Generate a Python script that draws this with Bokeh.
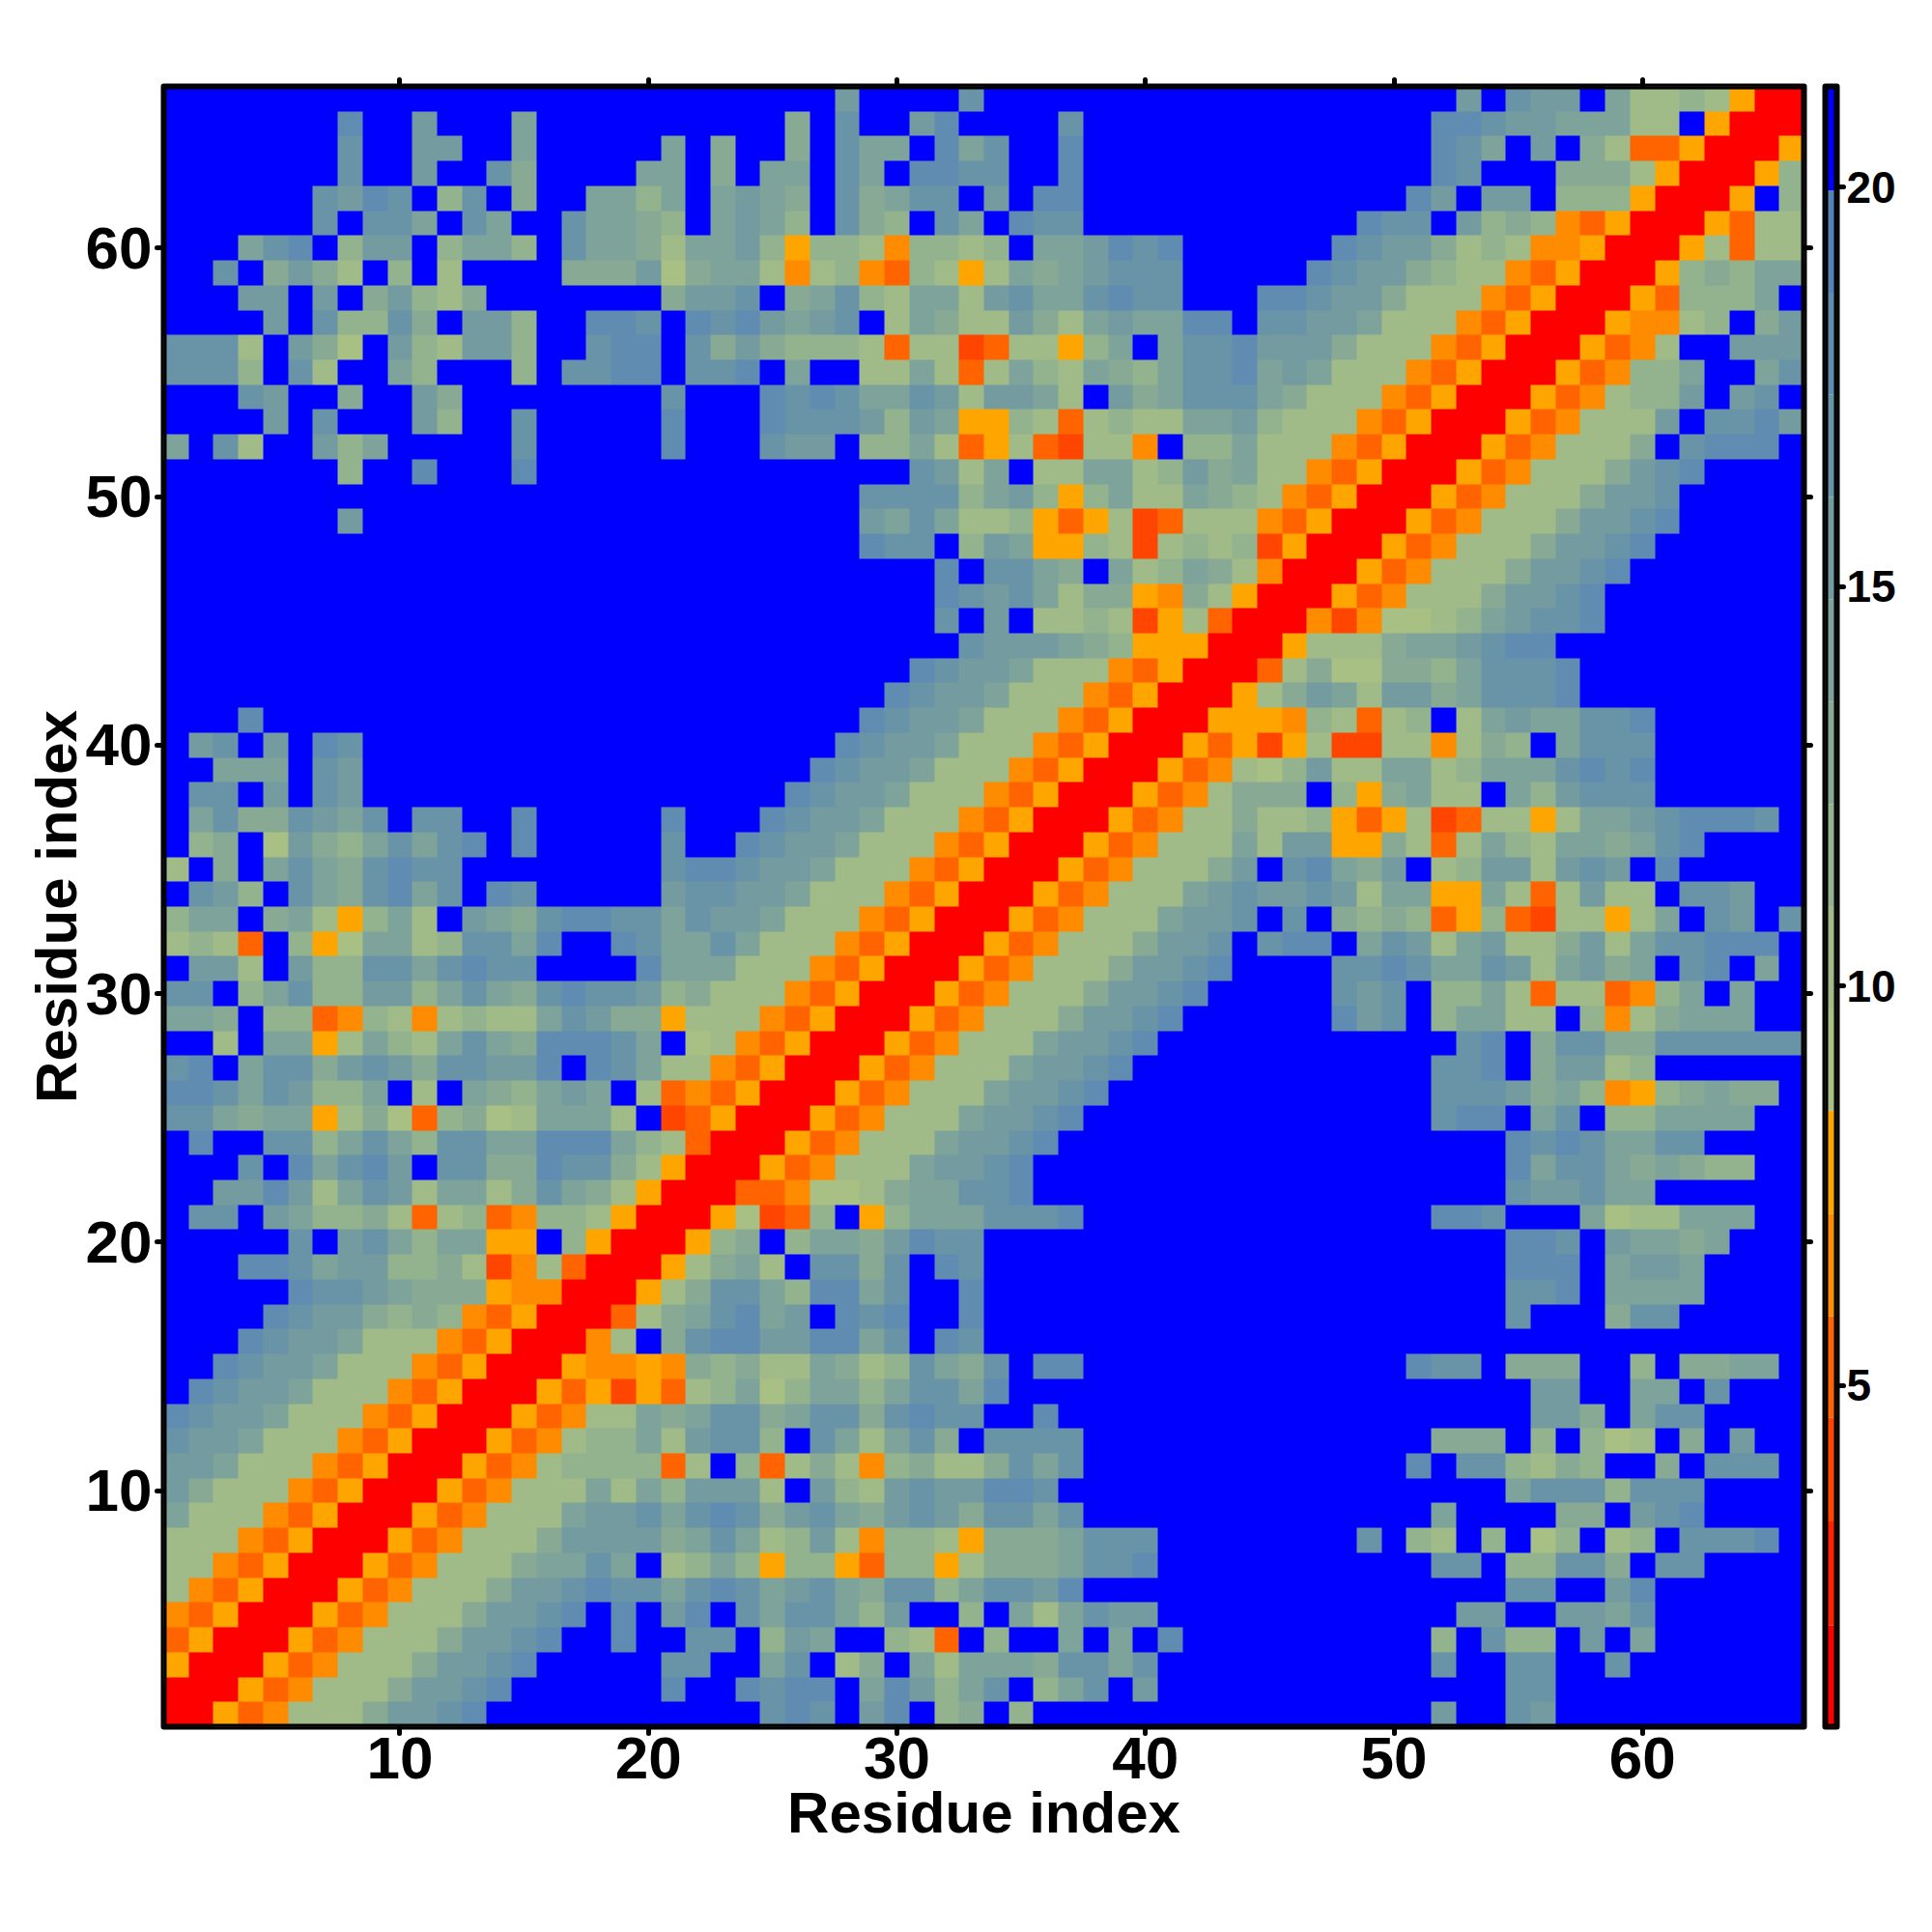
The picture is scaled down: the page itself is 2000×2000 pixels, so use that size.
import numpy as np
from bokeh.embed import file_html
from bokeh.layouts import row
from bokeh.models import BoxAnnotation, FixedTicker, LinearAxis, LinearColorMapper
from bokeh.plotting import figure
from bokeh.resources import INLINE

F = "ffffffffff"
# one string per residue row, from row 66 (top) down to row 1; each hex digit is a colour level
cell_rows = [
    F+F+"fffffffbff"+"ffcfffffff"+F+"ffbfcbbfa7"+"787500",
    "fffffffdff"+"bfffafffff"+"fffff9fcff"+"bdffffcfff"+F+"fddcbbaaa7"+"7f5000",
    "fffffffcff"+"bbffafffff"+"af9ff9fcaa"+"fdacffdfff"+F+"fdcafbf973"+"350005",
    "fffffffcff"+"bffc9ffffa"+"af9faafcaf"+"ddccffdfff"+F+"fdcfff9997"+"500058",
    "ffffffcbdc"+"f8cf9ffaa8"+"afaba9fc9a"+"ccfbfddfff"+F+"dbfbbf8885"+"0005f8",
    "ffffffcfcc"+"afcaffcaa9"+"8faba8fc98"+"fcafdccfff"+"ffffffffdc"+"cfb8984350"+"005377",
    "fffacdf8bb"+"f8aa8fcaa9"+"7aab858874"+"8878faabdc"+"dffffffdcb"+"b978744500"+"057377",
    "ffcf9b97f8"+"f7ffff999b"+"69aa747843"+"8757a9abcc"+"cfffffdcbb"+"9877435000"+"5898aa",
    "fffbbfbf9b"+"879fffffff"+"9bbcf9ac87"+"aa7bcaacdc"+"cfffddcbb9"+"7774350005"+"3888af",
    "ffffbfc88c"+"9fbb8ffddc"+"fdcdbabcf7"+"a977b97aba"+"addfccbba7"+"7743500054"+"478f9b",
    "ccc7fb96fb"+"87bb8ffcdd"+"fc9b988873"+"77237758af"+"accdbbb977"+"7435000534"+"7ffbbb",
    "ccc8fc7ffa"+"8fff8fccdd"+"fccdfaff77"+"a737a87a98"+"accdaba777"+"4350005348"+"8affac",
    "fffcbff9ff"+"b9ffffffff"+"cfffdcdcaa"+"cb7bba7fb9"+"accca97774"+"3500053478"+"8bfbcf",
    "ffffbfcfff"+"b8ffcfffff"+"dfffdcccb8"+"ba55873787"+"7aab877743"+"5000534777"+"bfccdb",
    "afc7ffb8af"+"ffffcfffff"+"dfffcbbf88"+"a735732774"+"f88a777435"+"0005347779"+"fcdddf",
    "fffffff8ff"+"dfffdfffff"+F+"cb7af77aa7"+"8b9a774350"+"005347779b"+"cdffff",
    F+F+"ffffffffcc"+"cc8ab858a7"+"7a98743500"+"05347779bb"+"cfffff",
    "fffffffbff"+F+"ffffffffba"+"ca77853572"+"3777435000"+"5347779bbc"+"dfffff",
    F+F+"ffffffffdc"+"cf8ba55872"+"7878250005"+"347779bbcd"+"ffffff",
    F+F+F+"fdfcca9fa7"+"8a97400053"+"47779bbcdf"+"ffffff",
    F+F+F+"fdcbca7995"+"4975000534"+"7779bbcdff"+"ffffff",
    F+F+F+"fcfbf77872"+"5730004246"+"678abccdff"+"ffffff",
    F+F+F+"ffcbbba985"+"5500057779"+"aabcddffff"+"ffffff",
    F+F+F+"dcbba77743"+"5000379669"+"98acccdfff"+"ffffff",
    F+F+"fffffffffd"+"cbba777435"+"000579ba7b"+"b9acccdfff"+"ffffff",
    "fffdffffff"+F+"ffffffffdc"+"bba7774350"+"0055548737"+"8f7abaaccd"+"ffffff",
    "fbcfbfdcff"+F+"fffffffdcb"+"ba77743500"+"0535257227"+"74798faccc"+"ffffff",
    "ffaaafcbff"+F+"ffffffdcbb"+"a777435000"+"534768b77a"+"a78aaacdcd"+"ffffff",
    "fccfbfcbff"+F+"fffffdcbba"+"7774350005"+"347999f859"+"a77fa8bccc"+"ffffff",
    "fac99cbacf"+"ccffdfffff"+"dfffdcbba7"+"7743500053"+"4779778535"+"7237757aab"+"cdddcf",
    "f89f6b98ac"+"acdfdfffff"+"cffdcbba77"+"7435000534"+"777a7bb559"+"737a87aa9a"+"cdffff",
    "7f9faca9cd"+"ccffffffff"+"cddcbba777"+"4350005347"+"779bfcda9b"+"f78bb7bcbf"+"dfffff",
    "fcb8fca9cd"+"acfdcfffff"+"bccbba7774"+"3500053477"+"7abcbbcb7a"+"a55a737b77"+"fccbff",
    "8aaf9a758a"+"7fba9cddcc"+"acbba77743"+"5000534777"+"abbcfcf989"+"8358327757"+"afcbfc",
    "7873f856aa"+"78ccadffdc"+"aaca777435"+"0005347779"+"bbcfcddfac"+"b7ab779b7a"+"ccdddf",
    "fbb7fb88cc"+"acdccffffd"+"aaa7774350"+"005347779b"+"bcdffffccd"+"caacb7ab9a"+"fcdfaf",
    "ccf8ac88bb"+"8aca9cdccb"+"8977743500"+"05347779bb"+"cdfffffcbc"+"f88a737734"+"8afaff",
    "aa9f883487"+"47877acb99"+"5777435000"+"5347779bbc"+"dffffffdbc"+"f8aa77f847"+"9aaaff",
    "ff7faa57a8"+"7aca9dddca"+"f674350005"+"34777abbcd"+F+"ffcdf9cc99"+"cccccc",
    "cdfacc9bcb"+"9ccbbdfdca"+"7743500053"+"4777abbcdf"+F+"fccdf9bb78"+"ffffff",
    "ddcacb88af"+"7fa98abaf7"+"3435000534"+"777abbcdff"+F+"fcccb9a845"+"89a99f",
    "cca9aa5796"+"38967aaa7f"+"2350005347"+"77abbcdfff"+F+"fcddfacf88"+"aaaaff",
    "fdffcc8aca"+"8ccaaddda8"+"7300053477"+"7abbcdffff"+F+"ffffdcdcaa"+"ccffff",
    "fffcfdacdb"+"fcc99dcc97"+"5000534777"+"abbcdfffff"+F+"ffffdacca9"+"a988ff",
    "ffbbdb7acb"+"7aa79ca975"+"0003346679"+"aaccdfffff"+F+"ffffcbbcaa"+"ffffff",
    "fccfba8897"+"3783488750"+"0056238f58"+"aaacccdfff"+F+"fddcfffa67"+"7aaaff",
    "fffffcfbca"+"8aa55f8500"+"0589f8aa9b"+"dccfffffff"+F+"ffffddcfba"+"a9afff",
    "fffddcabb8"+"8972473000"+"579a7fcc9c"+"fdcfffffff"+F+"ffffdddfab"+"baffff",
    "fffffdccba"+"9995440005"+"79cca8ddac"+"ffdfffffff"+F+"ffffccdfaa"+"aaffff",
    "ffffdcbb98"+"9843500037"+"9acdabfdcd"+"ffdfffffff"+F+"ffffcfff9c"+"cfffff",
    "fffdcbba77"+"743500047f"+"9cddbbddac"+"fdcfffffff"+F+F+"ffffff",
    "ffdcbba777"+"4350005445"+"498977a978"+"ca9cfddfff"+F+"dccf999ff8"+"f99aaf",
    "fdcbba7774"+"3500053525"+"378a68aa8a"+"ccadffffff"+F+"fffffbbffa"+"afcfff",
    "dcbba77743"+"500053477a"+"9acc9acc9c"+"dccffdffff"+F+"fffffbb9fa"+"ccffff",
    "cbba777435"+"000534788a"+"7bcc8fca7a"+"c9fccccfff"+F+"f999f8f867"+"f9fbff",
    "bba7774350"+"0053478888"+"37f8379748"+"9779cacfff"+F+"dfcc8798ff"+"9fcccf",
    "b977743500"+"0534777a7a"+"8bbb7fb87b"+"cbbddcffff"+F+"ffffaccc8c"+"ccffff",
    "a777435000"+"534777abbc"+"acdc9bca9b"+"cb9ccacfff"+F+"faffff99fb"+"cdffff",
    "7774350005"+"347779bbbb"+"9aca78b748"+"875999accc"+"ffffffffcf"+"87f8f68f78"+"fcccdf",
    "7743500053"+"47779aacaf"+"78a8588538"+"857999accd"+F+"fccf88cc9f"+"ccffff",
    "7435000534"+"7779bbcdcc"+"acdcabca9c"+"c8accbdfff"+F+"ffffccffbd"+"ffffff",
    "4350005347"+"779bbcdfdf"+"bdfcacca8b"+"ff8fa7acbb"+F+"ffbbffbbac"+"ffffff",
    "3500053477"+"79bbcdffdf"+"fccf8baff8"+"73f8ffafaf"+"dfffffffff"+"f8fc88fbfa"+"ffffff",
    "5000534777"+"9bbcdfffff"+"ccffacf79f"+"a7aaa9ccac"+F+"fcffccffcf"+"ffffff",
    "0005347779"+"bbcdffffff"+"dffdcddfad"+"b8acf8acfb"+F+"ffffccffff"+"ffffff",
    "005347779b"+"bcdfffffff"+"ffffcdcfbd"+"f89f8fffff"+F+"fbffcbffff"+"ffffff",
]
assert len(cell_rows) == 66 and all(len(r) == 66 for r in cell_rows)

level_edges = [0.73, 2.0, 3.3, 4.6, 5.87, 7.15, 8.44, 9.72, 11.0, 12.28,
               13.56, 14.84, 16.12, 17.4, 18.68, 19.96, 21.26]
palette = ["#ff0000", "#ff2200", "#ff4500", "#ff6400", "#ff8c00", "#ffa500",
           "#a8c083", "#a0bb87", "#93b38e", "#88aa94", "#7da39a", "#739ba0",
           "#6994a8", "#5f8cb0", "#5583b8", "#0000ff"]
axis_ticks = [10, 20, 30, 40, 50, 60]
bar_ticks = [5, 10, 15, 20]

mids = [(a + b) / 2 for a, b in zip(level_edges[:-1], level_edges[1:])]
matrix = np.array([[mids[int(c, 16)] for c in r] for r in reversed(cell_rows)])

FONT = "Liberation Sans"
mapper = LinearColorMapper(palette=palette, low=level_edges[0], high=level_edges[-1])

p = figure(frame_width=1698, frame_height=1698, x_range=(0.5, 66.5), y_range=(0.5, 66.5),
           min_border_left=169, min_border_top=89, min_border_right=11, min_border_bottom=112,
           output_backend="svg", toolbar_location=None)
p.grid.visible = False
p.image(image=[matrix], x=0.5, y=0.5, dw=66, dh=66, color_mapper=mapper)
p.outline_line_color = "black"
p.outline_line_width = 6
p.outline_line_join = "round"
p.add_layout(BoxAnnotation(left=0.5, right=66.5, bottom=0.5, top=66.5, fill_alpha=0,
                           line_color="black", line_width=6, line_alpha=1, level="overlay"))

def style(ax, label=None, label_standoff=0):
    ax.ticker = FixedTicker(ticks=axis_ticks)
    ax.axis_line_color = None
    ax.major_tick_in = 0
    ax.major_tick_out = 7
    ax.major_tick_line_width = 5
    ax.major_tick_line_cap = "round"
    ax.minor_tick_line_color = None
    ax.major_label_text_font = FONT
    ax.major_label_text_font_style = "bold"
    ax.major_label_text_font_size = "62px"
    ax.major_label_text_color = "black"
    ax.major_label_standoff = 5
    if label:
        ax.axis_label = label
        ax.axis_label_text_font = FONT
        ax.axis_label_text_font_style = "bold"
        ax.axis_label_text_font_size = "60px"
        ax.axis_label_text_color = "black"
        ax.axis_label_standoff = label_standoff

style(p.xaxis[0], "Residue index", -1)
p.xaxis[0].major_label_standoff = 4
style(p.yaxis[0], "Residue index", -6)

for side in ("above", "right"):
    ax = LinearAxis()
    style(ax)
    ax.major_label_overrides = {t: "" for t in axis_ticks}
    ax.major_label_standoff = 0
    p.add_layout(ax, side)

bar = figure(frame_width=12, frame_height=1698, x_range=(0, 1),
             y_range=(level_edges[0], level_edges[-1]), y_axis_location="right",
             min_border_left=11, min_border_top=89, min_border_right=20, min_border_bottom=112,
             output_backend="svg", toolbar_location=None)
bar.grid.visible = False
bar.xaxis.visible = False
bar.quad(left=0, right=1, bottom=level_edges[:-1], top=level_edges[1:], fill_color=palette, line_color=None)
bar.outline_line_color = "black"
bar.outline_line_width = 6
bar.outline_line_join = "round"
bar.add_layout(BoxAnnotation(left=0, right=1, bottom=level_edges[0], top=level_edges[-1], fill_alpha=0,
                             line_color="black", line_width=6, line_alpha=1, level="overlay"))
ya = bar.yaxis[0]
ya.ticker = FixedTicker(ticks=bar_ticks)
ya.axis_line_color = None
ya.major_tick_in = 0
ya.major_tick_out = 7
ya.major_tick_line_width = 5
ya.major_tick_line_cap = "round"
ya.minor_tick_line_color = None
ya.major_label_text_font = FONT
ya.major_label_text_font_style = "bold"
ya.major_label_text_font_size = "46px"
ya.major_label_text_color = "black"
ya.major_label_standoff = 3

open("out.html", "w").write(file_html(row(p, bar), INLINE))
